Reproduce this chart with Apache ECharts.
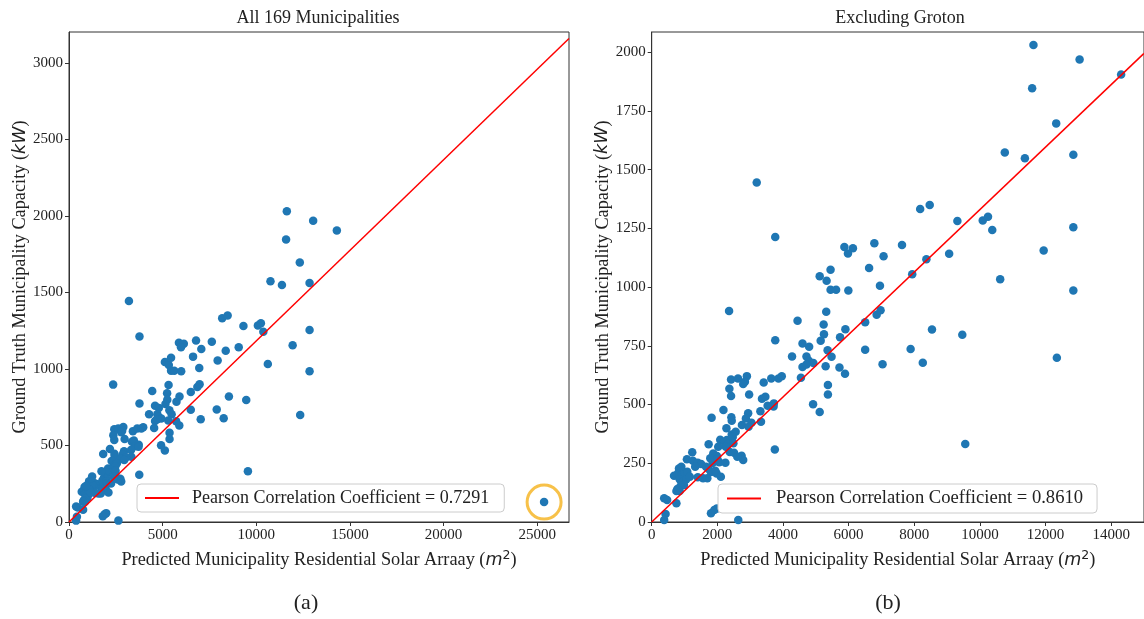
<!DOCTYPE html>
<html><head><meta charset="utf-8">
<script src="https://cdn.jsdelivr.net/npm/echarts@6/dist/echarts.min.js"></script>
<style>html,body{margin:0;padding:0;background:#fff}#c{width:1144px;height:619px}</style>
</head><body><div id="c"></div>
<script>
// Municipalities excluding Groton: predicted array area (m^2) and ground-truth capacity (kW)
const predictedArea = [11632,13038,14303,11592,12325,10759,11371,12847,8180,8471,
9314,10087,10247,10377,12847,11943,10618,12847,12345,9554,
9464,9063,8370,7938,7627,6784,7065,6624,6955,5871,
6131,5980,5119,5330,5450,5450,5619,5992,5318,5239,
5249,5149,5360,5480,5300,5721,5890,5739,5902,6504,
6854,6974,6504,7034,7889,8260,8540,5369,5369,5119,
3764,4444,3764,4595,4797,4276,4716,4788,4926,4595,
4716,2418,2629,2900,2840,2788,2367,2418,2969,3412,
3643,3863,3963,3360,3463,3532,3722,3713,2186,1825,
2427,2439,2939,2870,3312,3330,3041,2749,2951,2277,
2439,2559,2087,2288,2470,2207,2328,2258,2488,2027,
2378,2508,2740,2788,2608,1235,1073,1253,1404,1505,
1325,1656,1735,1856,1876,1987,1806,1936,1976,2107,
1565,1695,1404,831,681,801,922,1003,1084,852,
952,1054,982,882,783,852,753,1163,380,470,
753,422,380,1906,1987,1806,2638,4547,4917,3752,
2358,1735,1785,2005,2057,903,2246,3200];
const capacityKW = [2031,1969,1905,1847,1697,1573,1549,1563,1332,1350,
1281,1284,1299,1243,1255,1156,1033,986,699,332,
797,1142,1119,1055,1179,1187,1131,1081,1006,1171,
1165,1143,1046,1027,1074,989,989,986,895,841,
799,772,731,704,663,658,631,786,821,850,
882,901,733,672,736,678,820,583,543,468,
1213,857,774,760,746,705,705,686,677,660,
671,607,611,621,597,587,567,536,543,594,
611,611,620,525,533,495,505,492,477,444,
446,431,463,441,471,427,423,413,406,399,
373,384,350,349,362,342,332,320,335,320,
298,295,282,264,278,297,267,261,252,247,
235,235,226,251,292,281,213,218,207,193,
186,186,190,228,197,207,203,210,214,182,
172,182,157,153,140,132,132,193,101,94,
80,34,9,51,58,37,9,614,501,309,
898,331,271,267,254,235,252,1445];
// Groton (outlier, only in the "All" panel)
const grotonArea = [25370];
const grotonKW = [130];
// fitted correlation lines (endpoints)
const fitAllX = [0, 26700], fitAllY = [0, 3160];
const fitExclX = [0, 15000], fitExclY = [0, 1995];
// tick labels
const ticksAllX = [0,5000,10000,15000,20000,25000];
const ticksAllY = [0,500,1000,1500,2000,2500,3000];
const ticksExclX = [0,2000,4000,6000,8000,10000,12000,14000];
const ticksExclY = [0,250,500,750,1000,1250,1500,1750,2000];
const titles = ['All 169 Municipalities','Excluding Groton'];
const legendLabels = ['Pearson Correlation Coefficient = 0.7291','Pearson Correlation Coefficient = 0.8610'];
const captions = ['(a)','(b)'];
const xName = 'Predicted Municipality Residential Solar Arraay (';
const yName = 'Ground Truth Municipality Capacity (';

const serif = 'Liberation Serif';
const pairs = (xs, ys) => xs.map((x, i) => [x, ys[i]]);
const exclData = pairs(predictedArea, capacityKW);
const allData = exclData.concat(pairs(grotonArea, grotonKW));

const nameRich = {
  t: {fontFamily: serif, fontSize: 18.3, color: '#222'},
  m: {fontFamily: 'DejaVu Sans', fontStyle: 'italic', fontSize: 17.5, color: '#222'},
  s: {fontFamily: 'DejaVu Sans', fontSize: 12.5, color: '#222', padding: [0,0,9,0], verticalAlign: 'bottom'}
};
function xAx(gi, max, ticks) {
  return {type: 'value', gridIndex: gi, min: 0, max: max,
    axisLine: {show: true, onZero: false, lineStyle: {color: '#333', width: 1}},
    axisTick: {show: true, inside: false, length: 4, customValues: ticks, lineStyle: {color: '#333'}},
    axisLabel: {customValues: ticks, formatter: v => String(v), fontFamily: serif, fontSize: 15, color: '#222', margin: 6},
    splitLine: {show: false},
    name: '{t|' + xName + '}{m|m}{s|2}{t|)}', nameLocation: 'middle', nameGap: 27,
    nameTextStyle: {rich: nameRich}
  };
}
function yAx(gi, max, ticks) {
  return {type: 'value', gridIndex: gi, min: 0, max: max,
    axisLine: {show: true, onZero: false, lineStyle: {color: '#333', width: 1}},
    axisTick: {show: true, inside: false, length: 4, customValues: ticks, lineStyle: {color: '#333'}},
    axisLabel: {customValues: ticks, formatter: v => String(v), fontFamily: serif, fontSize: 15, color: '#222', margin: 6},
    splitLine: {show: false},
    name: '{t|' + yName + '}{m|kW}{t|)}', nameLocation: 'middle', nameGap: 40, nameRotate: 90,
    nameTextStyle: {rich: nameRich}
  };
}
const legendCommon = {
  orient: 'horizontal', top: 484, itemWidth: 34, itemHeight: 2, icon: 'rect',
  backgroundColor: '#fff', borderColor: '#ccc', borderWidth: 1, borderRadius: 4,
  padding: [5, 15, 5, 8],
  textStyle: {fontFamily: serif, fontSize: 18, color: '#222', padding: [0,0,0,8]},
  selectedMode: false
};
const chart = echarts.init(document.getElementById('c'));
chart.setOption({
  animation: false,
  backgroundColor: '#fff',
  grid: [
    {left: 69, top: 32, width: 500, height: 490, show: true, borderColor: '#333', borderWidth: 1},
    {left: 651.7, top: 32, width: 498, height: 490, show: true, borderColor: '#333', borderWidth: 1}
  ],
  xAxis: [xAx(0, 26700, ticksAllX), xAx(1, 15000, ticksExclX)],
  yAxis: [yAx(0, 3203, ticksAllY), yAx(1, 2086, ticksExclY)],
  legend: [
    Object.assign({}, legendCommon, {left: 137, data: [legendLabels[0]]}),
    Object.assign({}, legendCommon, {left: 718, data: [legendLabels[1]], padding: [5, 14, 5, 9],
      textStyle: {fontFamily: serif, fontSize: 18.6, color: '#222', padding: [0,0,0,10]}})
  ],
  graphic: [
    {type: 'text', x: 318, y: 18, style: {text: titles[0], font: '18px "Liberation Serif"', fill: '#222', textAlign: 'center', textVerticalAlign: 'middle'}},
    {type: 'text', x: 900, y: 18, style: {text: titles[1], font: '18px "Liberation Serif"', fill: '#222', textAlign: 'center', textVerticalAlign: 'middle'}},
    {type: 'text', x: 306, y: 603, style: {text: captions[0], font: '22px "Liberation Serif"', fill: '#222', textAlign: 'center', textVerticalAlign: 'middle'}},
    {type: 'text', x: 888, y: 603, style: {text: captions[1], font: '22px "Liberation Serif"', fill: '#222', textAlign: 'center', textVerticalAlign: 'middle'}}
  ],
  series: [
    {type: 'scatter', xAxisIndex: 0, yAxisIndex: 0, data: allData, symbolSize: 8.5,
     itemStyle: {color: '#1f77b4', opacity: 1}, silent: true, z: 2},
    {type: 'line', name: legendLabels[0], xAxisIndex: 0, yAxisIndex: 0, data: pairs(fitAllX, fitAllY),
     symbol: 'none', lineStyle: {color: '#ff0000', width: 1.5}, itemStyle: {color: '#ff0000'}, clip: true, z: 3},
    {type: 'scatter', xAxisIndex: 0, yAxisIndex: 0, data: pairs(grotonArea, grotonKW), symbolSize: 34,
     itemStyle: {color: 'rgba(0,0,0,0)', borderColor: '#f5b21c', borderWidth: 3}, silent: true, z: 4},
    {type: 'scatter', xAxisIndex: 1, yAxisIndex: 1, data: exclData, symbolSize: 8.5,
     itemStyle: {color: '#1f77b4', opacity: 1}, silent: true, z: 2},
    {type: 'line', name: legendLabels[1], xAxisIndex: 1, yAxisIndex: 1, data: pairs(fitExclX, fitExclY),
     symbol: 'none', lineStyle: {color: '#ff0000', width: 1.5}, itemStyle: {color: '#ff0000'}, clip: true, z: 3}
  ]
});
</script></body></html>
